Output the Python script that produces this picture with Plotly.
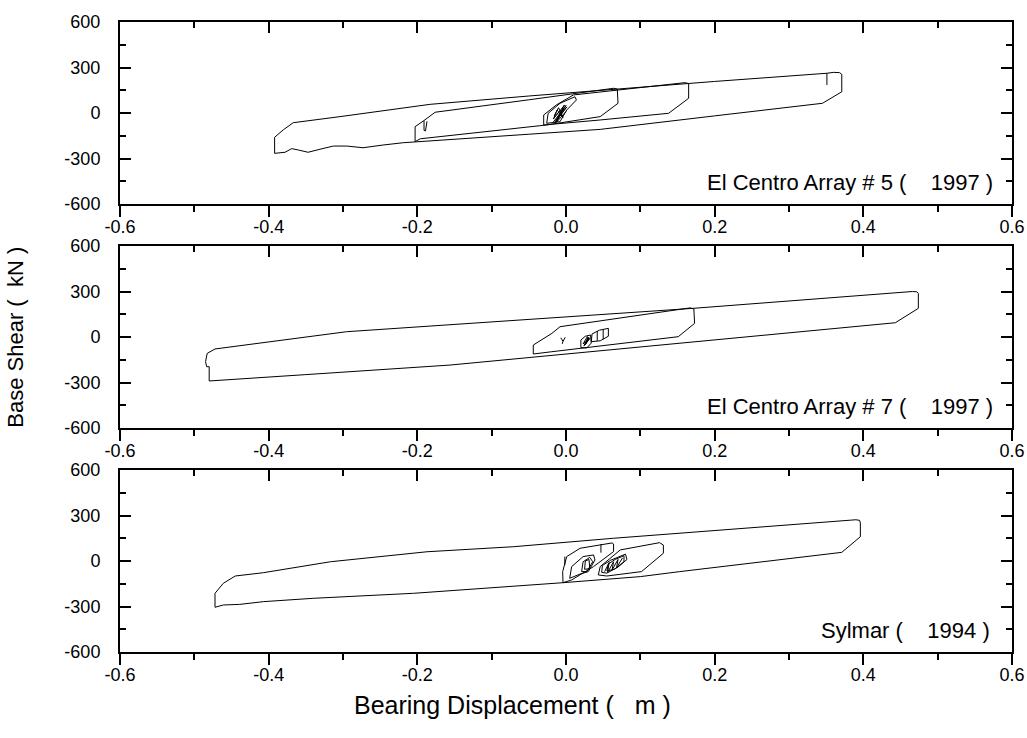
import plotly.graph_objects as go

# ---------------- data (bearing displacement [m], base shear [kN]) ----------------
# Panel 1: El Centro Array #5
p1_outer_x = [-0.392, -0.392, -0.380, -0.367, -0.304, -0.183, -0.050, 0.046, 0.200, 0.351, 0.360, 0.368, 0.371,
              0.371, 0.345, 0.200, 0.046, -0.050, -0.183, -0.219, -0.246, -0.273, -0.295, -0.313, -0.331,
              -0.347, -0.360, -0.369, -0.378, -0.392]
p1_outer_y = [-266, -160, -110, -64, -24, 57, 112, 150, 208, 262, 268, 266, 255,
              140, 64, -19, -108, -140, -185, -196, -211, -229, -218, -218, -239,
              -259, -244, -235, -259, -266]
p1_hook_x = [0.351, 0.351]
p1_hook_y = [262, 185]
p1_loopA_x = [-0.203, -0.203, -0.192, -0.176, -0.050, 0.064, 0.069, 0.070, 0.046, -0.026, -0.196, -0.203]
p1_loopA_y = [-189, -90, -53, 5, 87, 163, 158, 64, -24, -79, -170, -189]
p1_loopB_x = [-0.030, -0.030, -0.013, 0.010, 0.160, 0.165, 0.165, 0.138, 0.046, -0.030]
p1_loopB_y = [-79, -13, 53, 119, 200, 194, 97, -2, -46, -79]
p1_loopC_x = [-0.026, -0.024, -0.008, 0.012, 0.014, 0.001, -0.008, -0.026]
p1_loopC_y = [-68, -2, 64, 107, 86, 20, -57, -68]
p1_core_x = [-0.017, -0.001, -0.016, 0.000, -0.015, 0.001, -0.014, -0.002, -0.017, -0.012, -0.004, -0.010,
             -0.016, -0.003, -0.013, 0.000]
p1_core_y = [-60, 45, -50, 50, -66, 40, -55, 53, -40, 20, -30, 35, -20, 30, -62, 10]
p1_u_x = [-0.191, -0.191, -0.189, -0.187]
p1_u_y = [-50, -115, -118, -55]

# Panel 2: El Centro Array #7
p2_outer_x = [-0.480, -0.480, -0.4834, -0.4849, -0.4827, -0.4722, -0.295, -0.156, -0.089, 0.171, 0.466, 0.472,
              0.474, 0.474, 0.443, 0.200, -0.156, -0.350, -0.480]
p2_outer_y = [-290, -196, -196, -163, -108, -79, 35, 82, 100, 189, 300, 298,
              288, 189, 94, -19, -185, -248, -290]
p2_loopA_x = [-0.044, -0.044, -0.019, -0.008, 0.167, 0.172, 0.173, 0.151, -0.019, -0.044]
p2_loopA_y = [-112, -53, 24, 68, 192, 185, 90, 2, -97, -112]
p2_hook_x = [-0.007, -0.004, -0.001, None, -0.004, -0.005]
p2_hook_y = [-5, -28, -2, None, -28, -45]
p2_loop1_x = [0.020, 0.020, 0.026, 0.033, 0.034, 0.028, 0.020]
p2_loop1_y = [-70, -20, 5, 13, -40, -72, -70]
p2_fill1_x = [0.024, 0.030, 0.025, 0.031, 0.026, 0.032, 0.023, 0.029]
p2_fill1_y = [-60, 0, -55, -5, -50, -10, -45, 5]
p2_loop2_x = [0.034, 0.035, 0.045, 0.057, 0.057, 0.046, 0.034]
p2_loop2_y = [-31, 20, 45, 57, 5, -25, -31]
p2_bars_x = [0.042, 0.042, None, 0.050, 0.050]
p2_bars_y = [-25, 40, None, -15, 50]

# Panel 3: Sylmar
p3_outer_x = [-0.4722, -0.4722, -0.461, -0.445, -0.407, -0.317, -0.187, -0.071, 0.064, 0.153, 0.390, 0.395,
              0.396, 0.396, 0.371, 0.153, 0.100, -0.004, -0.116, -0.205, -0.340, -0.407, -0.439,
              -0.461, -0.4722]
p3_outer_y = [-305, -213, -147, -99, -77, -5, 61, 94, 150, 183, 272, 268,
              250, 160, 57, -70, -103, -143, -180, -213, -246, -268, -286,
              -290, -305]
p3_loopD_x = [0.0435, 0.046, 0.073, 0.126, 0.131, 0.131, 0.1016, 0.055, 0.0435]
p3_loopD_y = [-92, -37, 73, 121, 105, 51, -70, -99, -92]
p3_loopE_x = [-0.004, -0.0045, 0.001, 0.019, 0.062, 0.064, 0.064, 0.037, 0.0076, -0.004]
p3_loopE_y = [-143, -70, 29, 84, 119, 112, 62, -37, -125, -143]
p3_hook_x = [0.047, 0.047, None, -0.0016, -0.0016]
p3_hook_y = [112, 55, None, 29, -26]
p3_loopF_x = [0.005, 0.0076, 0.023, 0.037, 0.039, 0.030, 0.019, 0.005]
p3_loopF_y = [-114, -37, 29, 40, 7, -70, -86, -114]
p3_loopF2_x = [0.021, 0.023, 0.032, 0.036, 0.028, 0.021]
p3_loopF2_y = [-70, -5, 24, -5, -70, -70]
p3_loopF3_x = [0.025, 0.026, 0.031, 0.032, 0.025]
p3_loopF3_y = [-55, 0, 10, -50, -55]
p3_loopG_x = [0.048, 0.049, 0.060, 0.080, 0.082, 0.070, 0.055, 0.048]
p3_loopG_y = [-75, -30, 5, 45, 10, -40, -80, -75]
p3_fillG_x = [0.052, 0.058, 0.056, 0.064, 0.062, 0.070, 0.068, 0.076]
p3_fillG_y = [-70, -10, -75, -5, -60, 10, -45, 20]
p3_loopG2_x = [0.055, 0.057, 0.066, 0.078, 0.078, 0.065, 0.055]
p3_loopG2_y = [-65, -20, 10, 35, -5, -55, -65]

panel_labels = ["El Centro Array # 5 (    1997 )", "El Centro Array # 7 (    1997 )", "Sylmar (    1994 )"]
label_x = [0.577, 0.577, 0.573]
x_ticks = [-0.6, -0.4, -0.2, 0.0, 0.2, 0.4, 0.6]
x_ticktext = ["-0.6", "-0.4", "-0.2", "0.0", "0.2", "0.4", "0.6"]
y_ticks = [-600, -300, 0, 300, 600]
y_ticktext = ["-600", "-300", "0", "300", "600"]


def join(segments):
    xs, ys = [], []
    for sx, sy in segments:
        if xs:
            xs.append(None)
            ys.append(None)
        xs.extend(sx)
        ys.extend(sy)
    return xs, ys


panels = [
    [(p1_outer_x, p1_outer_y), (p1_hook_x, p1_hook_y), (p1_loopA_x, p1_loopA_y), (p1_loopB_x, p1_loopB_y),
     (p1_loopC_x, p1_loopC_y), (p1_core_x, p1_core_y), (p1_u_x, p1_u_y)],
    [(p2_outer_x, p2_outer_y), (p2_loopA_x, p2_loopA_y), (p2_hook_x, p2_hook_y), (p2_loop1_x, p2_loop1_y),
     (p2_fill1_x, p2_fill1_y), (p2_loop2_x, p2_loop2_y), (p2_bars_x, p2_bars_y)],
    [(p3_outer_x, p3_outer_y), (p3_loopD_x, p3_loopD_y), (p3_loopE_x, p3_loopE_y), (p3_hook_x, p3_hook_y),
     (p3_loopF_x, p3_loopF_y), (p3_loopF2_x, p3_loopF2_y), (p3_loopF3_x, p3_loopF3_y),
     (p3_loopG_x, p3_loopG_y), (p3_fillG_x, p3_fillG_y), (p3_loopG2_x, p3_loopG2_y)],
]

FONT = "Liberation Sans, Arial, sans-serif"
fig = go.Figure()

H = 630.0
domains = [[(652 - 204) / H, 1.0], [(652 - 428) / H, (652 - 246) / H], [0.0, (652 - 470) / H]]

layout = dict(
    width=1027, height=738,
    margin=dict(l=120, r=15, t=22, b=86, autoexpand=False),
    paper_bgcolor="white", plot_bgcolor="white",
    showlegend=False,
    font=dict(family=FONT, size=18, color="black"),
)

axis_common = dict(showgrid=False, zeroline=False, showline=True, linecolor="black", linewidth=2,
                   tickcolor="black", tickwidth=2, automargin=False)

annotations = []
for i, segs in enumerate(panels):
    n = i + 1
    xs, ys = join(segs)
    xname = "x" if n == 1 else f"x{n}"
    yname = "y" if n == 1 else f"y{n}"
    fig.add_trace(go.Scatter(x=xs, y=ys, mode="lines", line=dict(color="black", width=1),
                             xaxis=xname, yaxis=yname, hoverinfo="skip", connectgaps=False))
    # invisible trace to host the top (inward-tick) axis
    tn = n + 3
    fig.add_trace(go.Scatter(x=[None], y=[None], mode="lines", xaxis=f"x{tn}", yaxis=yname,
                             hoverinfo="skip"))
    xkey = "xaxis" if n == 1 else f"xaxis{n}"
    ykey = "yaxis" if n == 1 else f"yaxis{n}"
    layout[xkey] = dict(axis_common, domain=[0, 1], anchor=yname, range=[-0.6, 0.6],
                        tickmode="array", tickvals=x_ticks, ticktext=x_ticktext,
                        ticks="outside", ticklen=11, ticklabelstandoff=-6,
                        minor=dict(ticks="outside", ticklen=6, dtick=0.1, tick0=0, tickcolor="black",
                                   tickwidth=2, showgrid=False),
                        tickfont=dict(family=FONT, size=18))
    layout[f"xaxis{tn}"] = dict(axis_common, overlaying=xname, anchor=yname, side="top",
                                range=[-0.6, 0.6], tickmode="array", tickvals=x_ticks,
                                showticklabels=False, ticks="inside", ticklen=11,
                                minor=dict(ticks="inside", ticklen=6, dtick=0.1, tick0=0,
                                           tickcolor="black", tickwidth=2, showgrid=False))
    layout[ykey] = dict(axis_common, domain=domains[i], anchor=xname, range=[-600, 600],
                        tickmode="array", tickvals=y_ticks, ticktext=y_ticktext,
                        ticks="inside", ticklen=11,
                        mirror="ticks", ticklabelstandoff=14,
                        minor=dict(ticks="inside", ticklen=6, dtick=150, tick0=0, tickcolor="black",
                                   tickwidth=2, showgrid=False),
                        tickfont=dict(family=FONT, size=18))
    annotations.append(dict(text=panel_labels[i], xref=xname, yref=yname, x=label_x[i], y=-461,
                            xanchor="right", yanchor="middle", showarrow=False,
                            font=dict(family=FONT, size=22, color="black")))

annotations.append(dict(text="Base Shear (  kN )", xref="paper", yref="paper", x=-0.118, y=0.5,
                        textangle=-90, xanchor="center", yanchor="middle", showarrow=False,
                        font=dict(family=FONT, size=22, color="black")))
annotations.append(dict(text="Bearing Displacement (   m )", xref="paper", yref="paper", x=0.4405, y=0,
                        yshift=-53, xanchor="center", yanchor="middle", showarrow=False,
                        font=dict(family=FONT, size=25, color="black")))
layout["annotations"] = annotations
fig.update_layout(**layout)

fig.write_html("out.html")
